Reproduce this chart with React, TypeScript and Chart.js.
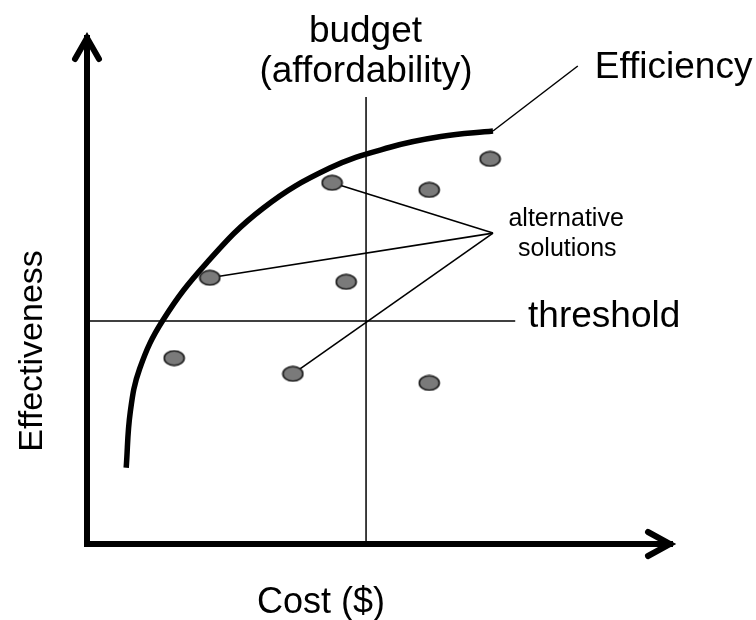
import React, { useEffect, useRef } from "react";
import { Chart, registerables } from "chart.js";

Chart.register(...registerables);

// Alternative solutions (cost, effectiveness)
const solutionCost = [14.9, 21.0, 35.2, 41.9, 44.3, 58.5, 68.9, 58.5];
const solutionEff = [36.6, 52.4, 33.5, 71.1, 51.6, 69.7, 75.8, 31.7];

// Efficiency frontier curve
const frontierCost = [6.7, 7.4, 9.0, 13.0, 20.5, 30.1, 41.5, 51.8, 60.5, 69.4];
const frontierEff = [15.0, 26.0, 34.5, 44.1, 55.4, 66.1, 74.0, 78.1, 80.2, 81.3];

// Budget and threshold reference lines
const budgetCost = 47.7;
const budgetTop = 88.0;
const thresholdEff = 43.9;
const thresholdEnd = 73.2;

// Callout: "alternative solutions" apex and the solutions it points to (indexes into arrays above)
const calloutApex = { x: 69.4, y: 61.2 };
const calloutTargets = [3, 1, 2];

// Efficiency label connector
const effConnector = [
  { x: 69.4, y: 81.3 },
  { x: 83.9, y: 94.1 },
];

type Label = { text: string; x: number; y: number; size: number; align: CanvasTextAlign; rotate?: boolean };
const labels: Label[] = [
  { text: "budget", x: 47.6, y: 98.8, size: 37, align: "center" },
  { text: "(affordability)", x: 47.7, y: 90.9, size: 37, align: "center" },
  { text: "Efficiency", x: 86.8, y: 91.7, size: 37, align: "left" },
  { text: "threshold", x: 75.4, y: 42.7, size: 37, align: "left" },
  { text: "alternative", x: 81.9, y: 62.6, size: 25, align: "center" },
  { text: "solutions", x: 82.1, y: 56.7, size: 25, align: "center" },
  { text: "Cost ($)", x: 40.0, y: -13.6, size: 36, align: "center" },
  { text: "Effectiveness", x: -7.7, y: 38.0, size: 34, align: "center", rotate: true },
];

const FONT = '"Liberation Sans", Arial, sans-serif';

function makeEllipse(): HTMLCanvasElement {
  const c = document.createElement("canvas");
  c.width = 23;
  c.height = 17;
  const g = c.getContext("2d")!;
  g.beginPath();
  g.ellipse(11.5, 8.5, 10, 7.2, 0, 0, Math.PI * 2);
  g.fillStyle = "#7a7a7a";
  g.fill();
  g.lineWidth = 1.6;
  g.strokeStyle = "#1a1a1a";
  g.stroke();
  return c;
}

const framePlugin = {
  id: "frame",
  afterDraw(chart: any) {
    const ctx: CanvasRenderingContext2D = chart.ctx;
    const xs = chart.scales.x;
    const ys = chart.scales.y;
    const x0 = xs.getPixelForValue(0);
    const x1 = xs.getPixelForValue(100);
    const y0 = ys.getPixelForValue(0);
    const y1 = ys.getPixelForValue(100);
    ctx.save();
    ctx.strokeStyle = "#000";
    ctx.lineWidth = 6;
    ctx.lineCap = "square";
    ctx.beginPath();
    ctx.moveTo(x0, y1 + 2);
    ctx.lineTo(x0, y0);
    ctx.lineTo(x1 - 2, y0);
    ctx.stroke();
    ctx.lineCap = "round";
    ctx.lineJoin = "miter";
    ctx.beginPath();
    ctx.moveTo(x0 - 12, y1 + 23);
    ctx.lineTo(x0, y1 + 2);
    ctx.lineTo(x0 + 12, y1 + 23);
    ctx.stroke();
    ctx.beginPath();
    ctx.moveTo(x1 - 24, y0 - 12);
    ctx.lineTo(x1 - 2, y0);
    ctx.lineTo(x1 - 24, y0 + 12);
    ctx.stroke();

    ctx.fillStyle = "#000";
    ctx.textBaseline = "alphabetic";
    for (const l of labels) {
      const px = xs.getPixelForValue(l.x);
      const py = ys.getPixelForValue(l.y);
      ctx.font = `${l.size}px ${FONT}`;
      ctx.textAlign = l.align;
      if (l.rotate) {
        ctx.save();
        ctx.translate(px, py);
        ctx.rotate(-Math.PI / 2);
        ctx.fillText(l.text, 0, 0);
        ctx.restore();
      } else {
        ctx.fillText(l.text, px, py);
      }
    }
    ctx.restore();
  },
};

export default function App() {
  const ref = useRef<HTMLCanvasElement>(null);
  useEffect(() => {
    if (!ref.current) return;
    const lineStyle = (w: number) => ({
      type: "line" as const,
      showLine: true,
      borderColor: "#000",
      borderWidth: w,
      pointRadius: 0,
      fill: false,
      clip: false as any,
    });
    const solutions = solutionCost.map((c, i) => ({ x: c, y: solutionEff[i] }));
    const frontier = frontierCost.map((c, i) => ({ x: c, y: frontierEff[i] }));
    const calloutSets = calloutTargets.map((idx) => ({
      ...lineStyle(1.6),
      order: 2,
      data: [solutions[idx], calloutApex],
    }));
    const chart = new Chart(ref.current, {
      type: "scatter",
      data: {
        datasets: [
          {
            type: "scatter",
            data: solutions,
            pointStyle: makeEllipse() as any,
            pointRadius: 10,
            order: 0,
            clip: false as any,
          } as any,
          { ...lineStyle(5.5), data: frontier, tension: 0.4, order: 1 } as any,
          { ...lineStyle(1.5), data: [{ x: budgetCost, y: 0 }, { x: budgetCost, y: budgetTop }], order: 3 } as any,
          { ...lineStyle(1.5), data: [{ x: 0, y: thresholdEff }, { x: thresholdEnd, y: thresholdEff }], order: 3 } as any,
          { ...lineStyle(1.5), data: effConnector, order: 3 } as any,
          ...(calloutSets as any[]),
        ],
      },
      options: {
        animation: false,
        responsive: false,
        layout: { padding: { left: 87, top: 36, right: 84, bottom: 76 } },
        plugins: { legend: { display: false }, tooltip: { enabled: false } },
        scales: {
          x: { type: "linear", min: 0, max: 100, display: false },
          y: { type: "linear", min: 0, max: 100, display: false },
        },
      },
      plugins: [framePlugin],
    });
    return () => chart.destroy();
  }, []);
  return (
    <div style={{ position: "absolute", left: 0, top: 0, width: 756, height: 620, background: "#fff" }}>
      <canvas ref={ref} width={756} height={620} />
    </div>
  );
}
